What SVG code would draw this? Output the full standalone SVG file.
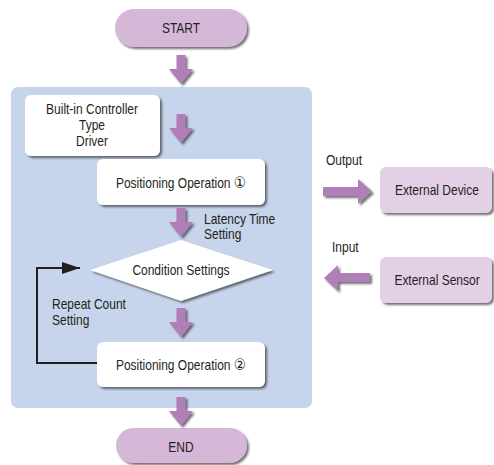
<svg xmlns="http://www.w3.org/2000/svg" width="494" height="465" viewBox="0 0 494 465">
<defs>
<style>
text{font-family:"Liberation Sans",Arial,"DejaVu Sans",sans-serif;font-size:14px;fill:#231f20}
.mid{text-anchor:middle}
.num{font-family:"DejaVu Sans","Noto Sans CJK JP",sans-serif;font-size:16px}
.pill{fill:#d5b8d8}
.ext{fill:#e3d0e7}
.box{fill:#ffffff}
.arr{fill:#b07fba}
.loop{fill:none;stroke:#231f20;stroke-width:2}
</style>
<filter id="sh" x="-20%" y="-20%" width="140%" height="150%">
<feDropShadow dx="2" dy="2" stdDeviation="1.2" flood-color="#333" flood-opacity="0.7"/>
</filter>
<path id="down" d="M-4.5,0 H4.5 V14 H12 L0,29 L-12,14 H-4.5 Z"/>
<marker id="ah" markerWidth="9" markerHeight="6" refX="9" refY="3" orient="auto" markerUnits="strokeWidth">
<path d="M0,0 L9,3 L0,6 Z" fill="#231f20"/>
</marker>
</defs>
<rect x="11" y="87" width="301" height="321" rx="7" fill="#c6d4ec"/>
<g id="start">
<rect class="pill" x="115" y="9" width="132" height="38" rx="19" filter="url(#sh)"/>
<text class="mid" transform="translate(181 33) scale(.857 1)">START</text>
</g>
<g id="builtin">
<rect class="box" x="25" y="95" width="135" height="61" rx="6" filter="url(#sh)"/>
<text class="mid" transform="translate(92 114) scale(.857 1)">Built-in Controller</text>
<text class="mid" transform="translate(92 130) scale(.857 1)">Type</text>
<text class="mid" transform="translate(92 146) scale(.857 1)">Driver</text>
</g>
<g id="pos1">
<rect class="box" x="97" y="159" width="168" height="46" rx="6" filter="url(#sh)"/>
<text class="mid" transform="translate(181 188) scale(.857 1)">Positioning Operation <tspan class="num">①</tspan></text>
</g>
<g id="cond">
<polygon class="box" points="181,240 273,270 181,301 90,270" filter="url(#sh)"/>
<text class="mid" transform="translate(181 275) scale(.857 1)">Condition Settings</text>
</g>
<g id="pos2">
<rect class="box" x="97" y="342" width="168" height="45" rx="6" filter="url(#sh)"/>
<text class="mid" transform="translate(181 370) scale(.857 1)">Positioning Operation <tspan class="num">②</tspan></text>
</g>
<g id="end">
<rect class="pill" x="116" y="428" width="131" height="35" rx="17.5" filter="url(#sh)"/>
<text class="mid" transform="translate(181 452) scale(.857 1)">END</text>
</g>
<g id="extdev">
<rect class="ext" x="380" y="167" width="112" height="46" rx="6" filter="url(#sh)"/>
<text class="mid" transform="translate(437 195) scale(.857 1)">External Device</text>
</g>
<g id="extsens">
<rect class="ext" x="380" y="257" width="112" height="46" rx="6" filter="url(#sh)"/>
<text class="mid" transform="translate(437 285) scale(.857 1)">External Sensor</text>
</g>
<g id="connectors">
<use href="#down" class="arr" x="181" y="55" filter="url(#sh)"/>
<use href="#down" class="arr" x="181" y="114" filter="url(#sh)"/>
<use href="#down" class="arr" x="181" y="208" filter="url(#sh)"/>
<use href="#down" class="arr" x="181" y="308" filter="url(#sh)"/>
<use href="#down" class="arr" x="181" y="397" filter="url(#sh)"/>
<path class="arr" d="M323,187 H358 V179 L372,191.5 L358,204 V196 H323 Z" filter="url(#sh)"/>
<path class="arr" d="M370,273 H338 V265 L324,278 L338,291 V282 H370 Z" filter="url(#sh)"/>
<path class="loop" d="M97,363 H37 V268 H80" marker-end="url(#ah)"/>
</g>
<g id="labels">
<text transform="translate(204 224) scale(.857 1)">Latency Time</text>
<text transform="translate(204 239) scale(.857 1)">Setting</text>
<text transform="translate(52 309) scale(.857 1)">Repeat Count</text>
<text transform="translate(52 325) scale(.857 1)">Setting</text>
<text transform="translate(326 165) scale(.857 1)">Output</text>
<text transform="translate(332 252) scale(.857 1)">Input</text>
</g>
</svg>
